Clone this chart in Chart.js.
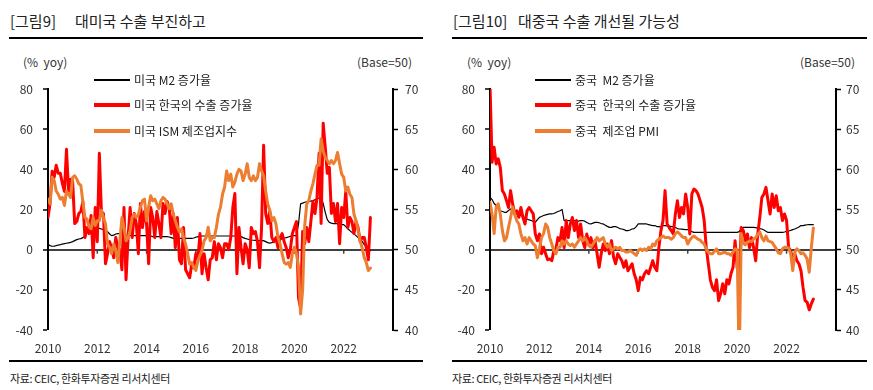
<!DOCTYPE html>
<html>
<head>
<meta charset="utf-8">
<script src="https://cdn.jsdelivr.net/npm/chart.js@4.4.0/dist/chart.umd.min.js"></script>
<style>
    body { margin: 0; background: #fff; width: 873px; height: 390px; position: relative; overflow: hidden;
           font-family: "Noto Sans CJK KR", sans-serif; color: #222; }
    .t { position: absolute; white-space: pre; }
    .title { font-size: 15px; line-height: 22px; top: 10px; color: #222; }
    .rule { position: absolute; height: 1.5px; background: #000; }
    .unit { font-size: 12px; line-height: 16px; top: 54px; color: #333; }
    .leg { font-size: 12px; line-height: 16px; color: #222; }
    .swatch { position: absolute; }
    .src { font-size: 11px; line-height: 16px; top: 370px; color: #222; letter-spacing: -0.4px; }
    canvas { position: absolute; top: 40px; }
</style>
</head>
<body>

<!-- left panel -->
<div class="t title" style="left:10px">[그림9]</div>
<div class="t title" style="left:75px">대미국 수출 부진하고</div>
<div class="rule" style="left:9px; width:414px; top:37px"></div>
<div class="t unit" style="left:23px">(%  yoy)</div>
<div class="t unit" style="left:357px">(Base=50)</div>

<!-- right panel -->
<div class="t title" style="left:453px">[그림10]</div>
<div class="t title" style="left:518px">대중국 수출 개선될 가능성</div>
<div class="rule" style="left:452px; width:415px; top:37px"></div>
<div class="t unit" style="left:467px">(%  yoy)</div>
<div class="t unit" style="left:800px">(Base=50)</div>

<canvas id="usChart" width="436" height="320" style="left:0px"></canvas>
<canvas id="cnChart" width="431" height="320" style="left:442px"></canvas>

<div id="legends"></div>

<div class="rule" style="left:9px; width:414px; top:360px"></div>
<div class="rule" style="left:452px; width:415px; top:360px"></div>
<div class="t src" style="left:10px">자료: CEIC, 한화투자증권 리서치센터</div>
<div class="t src" style="left:452px">자료: CEIC, 한화투자증권 리서치센터</div>

<script>
// monthly data, Jan 2010 .. Feb 2023
const startYear = 2010;
const yearTicks = [2010, 2012, 2014, 2016, 2018, 2020, 2022];

const usLabels = ['미국 M2 증가율', '미국 한국의 수출 증가율', '미국 ISM 제조업지수'];
const cnLabels = ['중국  M2 증가율', '중국  한국의 수출 증가율', '중국  제조업 PMI'];

// US M2 growth (% yoy, left axis)
const usM2 = [
    2.5, 2, 1.7, 1.8, 2, 2.3, 2.5, 2.8, 3, 3.2, 3.4, 3.6,
    4, 4.5, 5, 5.3, 5.5, 6, 7, 8.6, 10, 10.3, 10.5, 10.8,
    10.8, 10.6, 10.3, 10, 9.5, 9, 7.8, 7, 7.2, 7.8, 8, 8,
    7.8, 7.5, 7.2, 7, 7, 7, 7, 7, 7, 7, 7, 7,
    7, 7, 6.8, 6.5, 6.5, 6.5, 6.5, 6.5, 6.5, 6.5, 6.5, 6.3,
    6, 5.6, 5.6, 5.6, 5.6, 5.6, 5.6, 5.6, 5.6, 5.6, 5.6, 5.8,
    6.2, 6.5, 6.8, 6.8, 6.8, 6.8, 6.8, 6.8, 6.8, 6.8, 6.8, 6.8,
    6.8, 6.8, 6.8, 6.8, 6.8, 6.8, 6.8, 6.8, 6.8, 6.8, 6.5, 6,
    5.6, 5.3, 5, 4.8, 4.7, 4.6, 4.5, 4.5, 4.5, 4.5, 4, 3.5,
    3.3, 3.5, 4, 4.5, 4.8, 5, 5.5, 5.8, 6, 6.3, 6.6, 7,
    7, 7, 12.8, 22.8, 23.2, 23.6, 23.8, 24, 24.2, 24.4, 24.8, 25.2,
    25.7, 26, 23, 18.6, 15, 13.6, 13.2, 13, 13, 13, 12.8, 12.5,
    12.5, 11.5, 10.3, 9.5, 8.6, 7.8, 7, 6, 5.3, 4, 2.5, 1.2,
    0.3, -0.5
];

// Korean exports to the US (% yoy, left axis)
const usExport = [
    16, 23, 39, 36, 42, 38, 38, 33, 29, 50, 29, 35,
    34, 13, 14, 18, 19, 24, 6, 11, 8, 17, -4, 21,
    4, 48, 19, 18, -7, -2, 4, 1, -4, 6, 1, 0,
    -10, 21, -15, 6, 21, 6, 18, 13, -2, 23, 11, 19,
    13, -7, 21, 16, 6, 19, 13, 6, 23, 18, 24, 21,
    8, 18, 1, 16, -5, -7, 11, -10, -12, -14, -7, -9,
    -2, -5, 8, -12, -2, -9, -15, -5, -4, 4, -5, 3,
    1, -4, 3, 3, 0, 6, 21, 28, -12, 11, 1, -7,
    3, 0, -9, 11, 8, 9, 4, -9, 11, 52, 18, 13,
    19, 6, 4, 6, 1, 6, 8, 4, 1, -4, 0, 8,
    11, 14, -24, -29, 9, 3, 11, 4, 14, 24, 18, 26,
    48, 13, 63, 51, 38, 41, 18, 23, 14, 23, 3, 21,
    16, 29, 11, 16, 14, 8, 14, 11, 4, 6, 6, 1,
    -5, 16
];

// US ISM manufacturing (right axis, base 50)
const usIsm = [
    56.3, 55.7, 59, 58.6, 57.3, 56.9, 56.3, 56.5, 55.5, 57.3, 56.9, 56.5,
    59, 59.2, 58.8, 58.2, 58, 55.9, 54, 53.8, 52.8, 52.6, 54, 53,
    53.6, 53.6, 54.9, 54, 53.2, 50.7, 50.3, 49.5, 50.7, 49.9, 48.4, 51.1,
    54, 52.8, 51.1, 51.5, 52.4, 54, 54.4, 54, 54.4, 55.3, 56.1, 56.3,
    53.6, 55.3, 56.7, 56.1, 56.3, 55.7, 55.1, 56.1, 56.5, 56.3, 55.7, 55.1,
    55.7, 54.4, 53.6, 52.8, 52.2, 52.6, 51.5, 50.7, 49.5, 48.2, 48.4, 47.8,
    47.4, 48.6, 49.3, 49.9, 51.1, 51.5, 52.8, 51.1, 51.5, 51.5, 52.8, 54.4,
    55.3, 56.9, 57.8, 59.8, 58.6, 59.4, 57.8, 58.4, 59.4, 60, 59.8, 58.6,
    59.4, 60.7, 59, 58.6, 59.2, 58.6, 59, 60.7, 59.8, 59.2, 57.3, 55.7,
    54.9, 53.6, 54, 53.2, 51.5, 50.7, 49.5, 48.4, 48.2, 48.4, 47.8, 49.5,
    50.3, 49.5, 47.8, 42, 45, 53, 55.7, 56.1, 57.3, 58.2, 59.4, 60.5,
    60.5, 63.8, 62.3, 61.5, 61.1, 60.7, 61.1, 60.7, 61.1, 62.1, 60.7, 59.4,
    59, 57.3, 57.8, 56.9, 56.5, 54.4, 53.6, 52.4, 51.1, 50.2, 49, 48.4,
    47.4, 47.7
];

// China M2 growth (% yoy, left axis)
const cnM2 = [
    26, 25, 23, 22, 20.5, 19.4, 19, 18.6, 18.6, 19.5, 20.3, 19.5,
    18, 17.8, 17.5, 17, 16.5, 15.8, 15.3, 14.8, 14.5, 14, 13.6, 15,
    16.1, 16.5, 17, 17.3, 17.6, 17.8, 17.8, 18, 18.5, 19, 19.4, 20,
    14.5, 14.5, 14.5, 14.5, 14.5, 14.5, 14.3, 14.2, 14.5, 14.5, 14.2, 13.5,
    13, 12.8, 13.2, 13.6, 13.6, 13.4, 13, 12.8, 12.2, 11.6, 11.1, 11.1,
    11.5, 11.5, 11, 10.5, 10.3, 10, 9.5, 9.5, 9.8, 10.3, 10.5, 11.5,
    12.8, 12.8, 12.8, 12.8, 12.8, 12.5, 12.2, 12, 12, 11.5, 11.5, 11.2,
    12, 12, 11.8, 11.7, 11.5, 11.5, 11, 10.5, 10.3, 10.2, 10.1, 10,
    10, 9.5, 9, 8.6, 8.6, 8.6, 8.6, 8.6, 8.6, 8.6, 8.6, 8.6,
    8.6, 8.6, 8.6, 8.6, 8.6, 8.6, 8.6, 8.6, 8.6, 8.6, 8.6, 8.6,
    8.6, 9, 10.5, 11.1, 11.1, 11.1, 11.1, 11.1, 11.1, 11, 10.7, 10.5,
    10.3, 9.8, 9.2, 8.6, 8.6, 8.6, 8.6, 8.6, 8.6, 8.6, 8.6, 8.8,
    9.1, 9.3, 9.6, 10, 10.3, 10.8, 11.3, 12, 12, 12.2, 12.4, 12.5,
    12.5, 12.5
];

// Korean exports to China (% yoy, left axis)
const cnExport = [
    82, 43.5, 51, 42.7, 45.2, 41, 29.4, 27.7, 24.4, 21, 29.4, 22.8,
    17.8, 19.4, 16.1, 21, 16.1, 12.8, 19.4, 21, 19.4, 17.8, 7.8, 4.5,
    7.8, -2, 1.2, -2, -5, -4.6, -5.5, -0.5, 0.3, 6, 4.5, 11,
    1, 14.5, 6, 12.8, 16, 9.5, 14.5, 6, 12.8, 4.5, 1, 7.8,
    2.8, 6, 1, 4.5, -2, -8.8, -2, 2.8, -0.5, 2.8, -2, 4.5,
    -3.8, -7, -2, -3.8, -5.5, -8.8, -5.5, -10.5, -8.8, -7, -12, -15,
    -20.4, -13.8, -15, -12, -10.5, -12, -8.8, -5.5, -8.8, -10.5, 1, 9.5,
    14.5, 29.4, 12.8, 11, 9.5, 7.8, 17.8, 24.4, 16, 21, 17.8, 27.7,
    21, 7.8, 27.7, 30.2, 29.4, 27.7, 24.4, 21, 14.5, 1, -7, -15,
    -18.8, -20.4, -15, -25.4, -22, -17, -22, -15, -17, -12, -8.8, 4.5,
    -8.8, -13.8, 11, 9.5, 4.5, 7.8, 1, 6, 1, -5.5, 7.8, 16,
    26, 27.7, 31, 24.4, 17.8, 27.7, 21, 26.8, 19.4, 21, 14.5, 17.8,
    14.5, 1, -0.5, -5.5, -2, -5.5, -7, -10.5, -18.8, -25.4, -26.2, -30,
    -27, -24.6
];

// China manufacturing PMI (right axis, base 50)
const cnPmi = [
    55.9, 54.4, 52, 55.3, 55.7, 54.4, 52.4, 51.1, 51.5, 52.8, 54, 55.3,
    54.4, 53.6, 53.2, 52, 51.1, 51.5, 50.7, 51.5, 51.1, 50.7, 50.5, 49,
    50.1, 51.5, 52, 53.2, 52.8, 51.5, 50.7, 49.9, 49.5, 50.3, 50.3, 51.1,
    50.7, 51.1, 50.7, 50.5, 50.7, 50.3, 50.7, 51.1, 51.5, 51.1, 51.5, 51.1,
    50.5, 50.3, 50.7, 51.1, 51.5, 51.1, 51.3, 51.5, 50.7, 50.3, 50.7, 49.9,
    50.1, 50.3, 50.1, 50.3, 49.9, 49.9, 49.7, 49.7, 49.9, 49.7, 49.5, 49.3,
    49.9, 50.1, 49.9, 50.1, 49.9, 50.3, 50.1, 50.7, 50.5, 51.1, 51.3, 51.5,
    51.7, 51.5, 51.5, 51.5, 51.3, 51.5, 52, 52.2, 52, 51.7, 51.5, 51.5,
    50.7, 51.2, 51.5, 51.7, 51.5, 51.3, 51.2, 50.9, 50.7, 50.1, 49.7, 49.5,
    49.5, 49.8, 50.1, 49.5, 49.5, 49.6, 49.7, 49.5, 49.5, 49.3, 49.7, 50.1,
    50, 35.7, 52, 50.8, 50.6, 50.9, 51.1, 51, 51.3, 51.5, 51.9, 52.2,
    51.5, 51.1, 51.7, 51.1, 51, 50.9, 50.5, 50.1, 49.6, 49.5, 50.1, 50.3,
    50.3, 50.2, 49.5, 47.4, 49.7, 50.1, 49.9, 49.5, 49.6, 49.3, 48.8, 47.2,
    50.2, 52.7
];

const FONT = '"Noto Sans CJK KR", sans-serif';
const TEXT = '#333';

function toPoints(arr) {
    return arr.map((v, i) => ({ x: startYear + i / 12, y: v }));
}

// small tick marks hanging from the zero line
const zeroTicks = {
    id: 'zeroTicks',
    beforeDatasetsDraw(chart) {
        const { ctx, scales: { x, y } } = chart;
        const y0 = y.getPixelForValue(0);
        ctx.save();
        ctx.strokeStyle = '#404040';
        ctx.lineWidth = 1.5;
        x.ticks.forEach(t => {
            if (t.value <= x.min || t.value >= x.max) return;
            const px = x.getPixelForValue(t.value);
            ctx.beginPath();
            ctx.moveTo(px, y0);
            ctx.lineTo(px, y0 + 4);
            ctx.stroke();
        });
        ctx.restore();
    }
};

function makeChart(id, labels, m2, exp, idx, sizes) {
    return new Chart(document.getElementById(id), {
        type: 'line',
        data: {
            datasets: [
                { label: labels[2], data: toPoints(idx), yAxisID: 'y2', borderColor: '#ED7D31', borderWidth: 3, order: 0 },
                { label: labels[1], data: toPoints(exp), yAxisID: 'y', borderColor: '#FF0000', borderWidth: 3, order: 1 },
                { label: labels[0], data: toPoints(m2), yAxisID: 'y', borderColor: '#000000', borderWidth: 1.2, order: 2 }
            ]
        },
        options: {
            responsive: false,
            animation: false,
            devicePixelRatio: 1,
            layout: { padding: { top: 49, left: 0, right: 0, bottom: 0 } },
            elements: {
                point: { radius: 0 },
                line: { tension: 0, borderJoinStyle: 'round', borderCapStyle: 'round' }
            },
            plugins: { legend: { display: false }, tooltip: { enabled: false } },
            scales: {
                x: {
                    type: 'linear',
                    min: 2010,
                    max: 2024,
                    afterBuildTicks: s => { s.ticks = yearTicks.map(v => ({ value: v })); },
                    ticks: { padding: 11, color: TEXT, font: { family: FONT, size: 12 }, callback: v => String(v) },
                    grid: { display: false, drawTicks: false },
                    border: { display: false },
                    afterFit: s => { s.height = 30; }
                },
                y: {
                    position: 'left',
                    min: -40,
                    max: 80,
                    ticks: { stepSize: 20, padding: 10, color: TEXT, font: { family: FONT, size: 12 } },
                    grid: {
                        color: c => c.tick && c.tick.value === 0 ? '#404040' : 'rgba(0,0,0,0)',
                        lineWidth: c => c.tick && c.tick.value === 0 ? 2 : 0,
                        tickColor: '#000',
                        tickLength: 5,
                        tickWidth: 1.5
                    },
                    border: { color: '#000', width: 2 },
                    afterFit: s => { s.width = sizes.left; }
                },
                y2: {
                    position: 'right',
                    min: 40,
                    max: 70,
                    ticks: { stepSize: 5, padding: sizes.rightPad, color: TEXT, font: { family: FONT, size: 12 } },
                    grid: { drawOnChartArea: false, tickColor: '#000', tickLength: 5, tickWidth: 1.5 },
                    border: { color: '#000', width: 2 },
                    afterFit: s => { s.width = sizes.right; }
                }
            }
        },
        plugins: [zeroTicks]
    });
}

makeChart('usChart', usLabels, usM2, usExport, usIsm, { left: 48, right: 43, rightPad: 7 });
makeChart('cnChart', cnLabels, cnM2, cnExport, cnPmi, { left: 48, right: 37, rightPad: 5 });

// legends (HTML, drawn over the plot areas)
function addLegend(labels, x0, textX) {
    const box = document.getElementById('legends');
    const rows = [80, 105, 131];
    const styles = [
        { color: '#000', w: 1.5 },
        { color: '#FF0000', w: 3.5 },
        { color: '#ED7D31', w: 3.5 }
    ];
    labels.forEach((lab, i) => {
        const sw = document.createElement('div');
        sw.className = 'swatch';
        sw.style.left = x0 + 'px';
        sw.style.width = (textX - x0 - 4) + 'px';
        sw.style.top = (rows[i] - styles[i].w / 2) + 'px';
        sw.style.height = styles[i].w + 'px';
        sw.style.background = styles[i].color;
        box.appendChild(sw);
        const t = document.createElement('div');
        t.className = 't leg';
        t.style.left = textX + 'px';
        t.style.top = (rows[i] - 8) + 'px';
        t.textContent = lab;
        box.appendChild(t);
    });
}
addLegend(usLabels, 94, 134);
addLegend(cnLabels, 535, 575);
</script>
</body>
</html>
